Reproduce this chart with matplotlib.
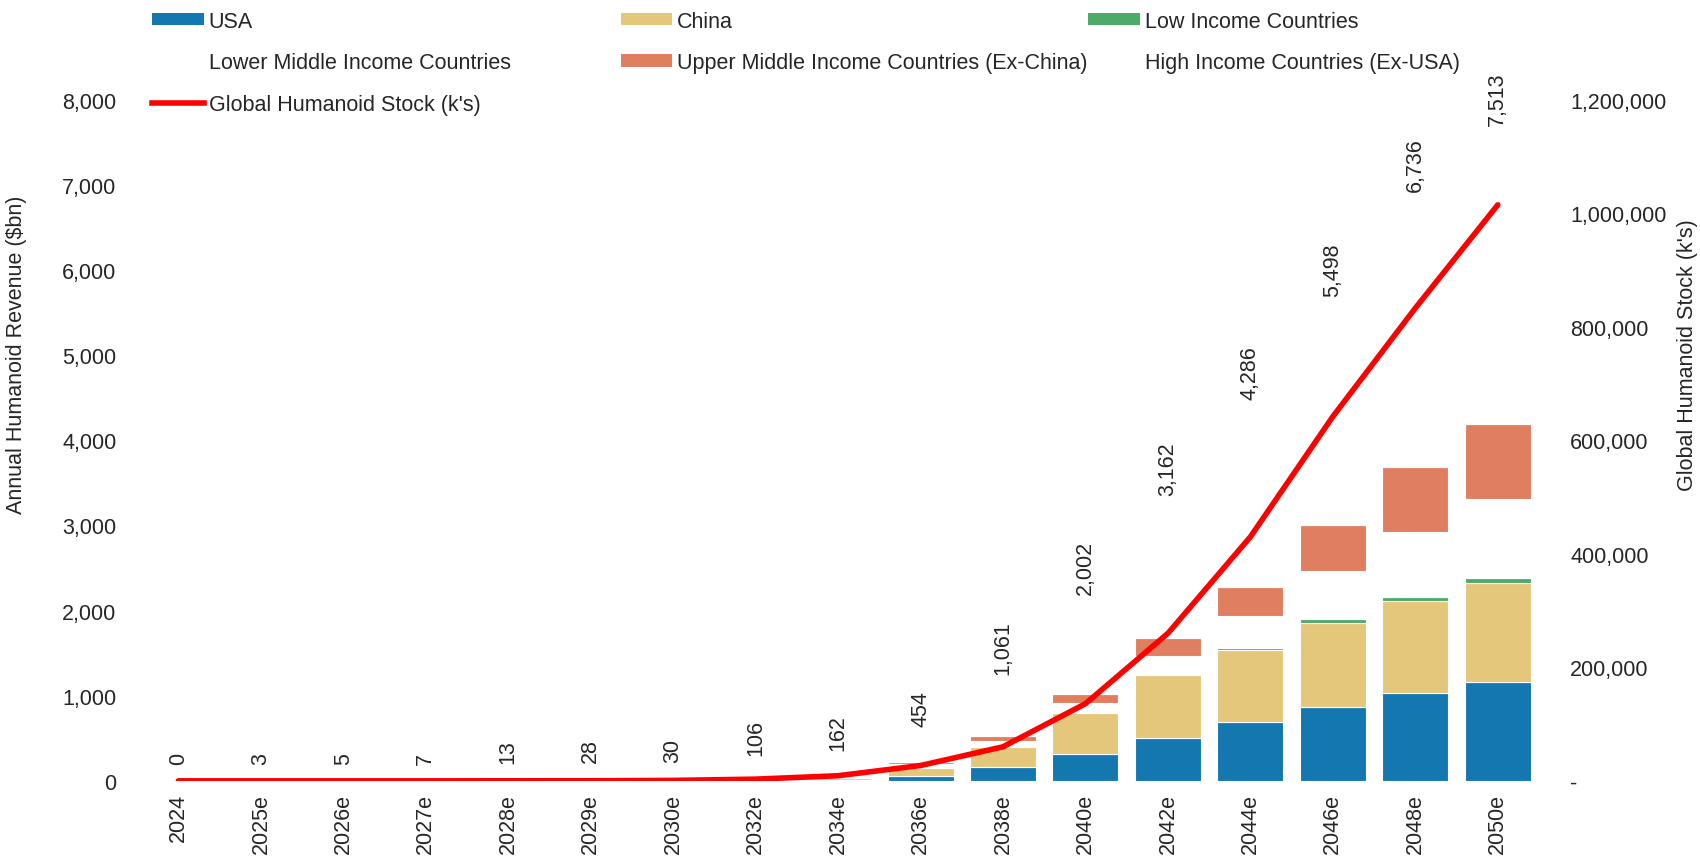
import numpy as np
import matplotlib.pyplot as plt
from matplotlib.patches import Patch
from matplotlib.lines import Line2D
from matplotlib.ticker import FuncFormatter

plt.rcParams['font.family'] = ['Liberation Sans', 'DejaVu Sans']
FS = 15.5
TXT = "#262626"

### data
years = ['2024', '2025e', '2026e', '2027e', '2028e', '2029e', '2030e', '2032e',
         '2034e', '2036e', '2038e', '2040e', '2042e', '2044e', '2046e', '2048e', '2050e']
totals = [0, 3, 5, 7, 13, 28, 30, 106, 162, 454, 1061, 2002, 3162, 4286, 5498, 6736, 7513]

usa       = [0, 0.1, 0.2, 0.3, 0.5, 1, 1, 4, 12, 55, 165, 315, 500, 690, 867, 1036, 1163]
china     = [0, 0.1, 0.2, 0.3, 0.5, 1, 1, 5, 20, 91, 237, 481, 749, 847, 993, 1072, 1162]
low_inc   = [0, 0, 0, 0, 0, 0, 0, 0, 1, 2, 2, 4, 6, 28, 43, 52, 59]
lower_mid = [0, 0.1, 0.2, 0.3, 0.5, 1, 1, 2, 8, 47, 60, 118, 215, 366, 560, 768, 926]
upper_mid = [0, 0.1, 0.1, 0.2, 0.4, 1, 1, 3, 8, 27, 59, 107, 205, 343, 544, 757, 887]
high_inc  = [0, 2.6, 4.3, 5.9, 11.1, 24, 26, 92, 113, 232, 538, 977, 1487, 2012, 2491, 3051, 3316]

stock = [0, 0, 0, 0, 100, 200, 800, 3000, 9000, 27000, 60000, 136000,
         260000, 430000, 642000, 833000, 1015000]

series = [
    ("USA", usa, "#1477b0"),
    ("China", china, "#e5c77b"),
    ("Low Income Countries", low_inc, "#4daa6b"),
    ("Lower Middle Income Countries", lower_mid, "white"),
    ("Upper Middle Income Countries (Ex-China)", upper_mid, "#e07e60"),
    ("High Income Countries (Ex-USA)", high_inc, "white"),
]

fig = plt.figure(figsize=(17, 8.62), dpi=100)
ax = fig.add_axes([0.071, 0.093, 0.844, 0.79])

x = np.arange(len(years))
bottom = np.zeros(len(years))
for name, vals, col in series:
    vals = np.array(vals, dtype=float)
    ax.bar(x, vals, 0.8, bottom=bottom, color=col, edgecolor="white", linewidth=0.8)
    bottom += vals

### total labels above the (invisible) full stack
for xi, top, lab in zip(x, bottom, totals):
    ax.annotate(f"{lab:,}", (xi, top), xytext=(0, 12), textcoords="offset points",
                rotation=90, ha="center", va="bottom", fontsize=FS, color=TXT)

ax.set_xlim(-0.7, len(years) - 0.3)
ax.set_ylim(0, 8000)
ax.set_yticks(range(0, 8001, 1000))
ax.yaxis.set_major_formatter(FuncFormatter(lambda v, p: f"{int(v):,}"))
ax.set_xticks(x)
ax.set_xticklabels(years, rotation=90)
ax.tick_params(axis="y", length=0, labelsize=FS, colors=TXT, pad=3)
ax.tick_params(axis="x", length=0, labelsize=FS, colors=TXT, pad=9)
ax.set_ylabel("Annual Humanoid Revenue ($bn)", fontsize=FS, color=TXT)
ax.yaxis.set_label_coords(-0.0725, 0.627)
ax.yaxis.label.set_va("center")
for s in ax.spines.values():
    s.set_visible(False)

ax2 = ax.twinx()
ax2.plot(x, stock, color="#ff0000", linewidth=4, solid_capstyle="round")
ax2.set_ylim(0, 1200000)
ax2.set_yticks(range(0, 1200001, 200000))
ax2.yaxis.set_major_formatter(FuncFormatter(lambda v, p: "-" if v == 0 else f"{int(v):,}"))
ax2.tick_params(length=0, labelsize=FS, colors=TXT, pad=10.5)
ax2.set_ylabel("Global Humanoid Stock (k's)", fontsize=FS, color=TXT)
ax2.yaxis.set_label_coords(1.092, 0.627)
ax2.yaxis.label.set_va("center")
for s in ax2.spines.values():
    s.set_visible(False)

### legend in three columns, like the excel original
def patch(c):
    return Patch(facecolor=c, edgecolor="none")

cols = [
    ([patch("#1477b0"), patch("white"), Line2D([], [], color="#ff0000", linewidth=4)],
     ["USA", "Lower Middle Income Countries", "Global Humanoid Stock (k's)"], 0.0894),
    ([patch("#e5c77b"), patch("#e07e60")],
     ["China", "Upper Middle Income Countries (Ex-China)"], 0.365),
    ([patch("#4daa6b"), patch("white")],
     ["Low Income Countries", "High Income Countries (Ex-USA)"], 0.640),
]
for h, l, xpos in cols:
    leg = fig.legend(h, l, loc="upper left", bbox_to_anchor=(xpos, 0.9864), frameon=False,
                     fontsize=FS, handlelength=2.4, handleheight=0.5, handletextpad=0.23,
                     labelspacing=0.95, borderpad=0, borderaxespad=0)
    for t in leg.get_texts():
        t.set_color(TXT)

fig.savefig("out.png", dpi=100)
